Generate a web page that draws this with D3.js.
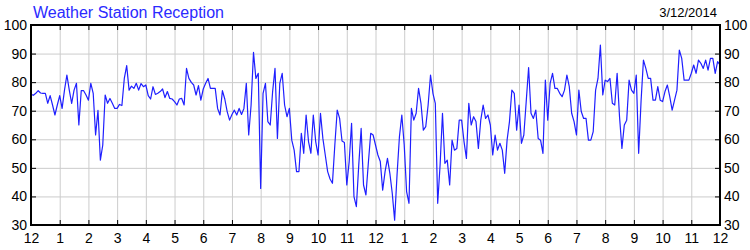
<!DOCTYPE html>
<html lang="en">
<head>
    <meta charset="UTF-8">
    <title>Weather Station Reception</title>
    <script src="https://cdn.jsdelivr.net/npm/d3@7"></script>
    <style>
        body {
            margin: 0;
            background-color: #fff;
            font-family: 'Liberation Sans', Arial, sans-serif;
        }
        svg text {
            font-family: 'Liberation Sans', Arial, sans-serif;
        }
    </style>
</head>
<body>
    <svg id="chart" width="750" height="250"></svg>

    <script>
        // reception quality, one reading every 5 minutes from midnight to midnight
        const readings = [
            75.7, 75.4, 76.1, 77.0, 76.2, 76.1, 76.1, 72.6, 75.3, 72.0, 68.5, 72.0,
            75.3, 70.8, 77.2, 82.5, 77.2, 72.6, 77.2, 79.6, 65.0, 77.0, 77.0, 75.5,
            73.7, 79.6, 76.1, 61.5, 70.1, 52.7, 58.0, 75.5, 72.6, 74.3, 72.6, 70.8,
            70.8, 72.2, 71.8, 81.3, 85.8, 77.2, 78.6, 77.8, 79.6, 77.2, 79.5, 78.4,
            79.0, 75.3, 74.1, 78.4, 75.7, 76.1, 76.7, 77.6, 74.6, 76.7, 74.3, 74.1,
            73.2, 72.0, 74.1, 74.3, 72.0, 84.8, 81.3, 79.9, 79.0, 75.5, 78.8, 73.7,
            77.6, 79.6, 81.3, 77.8, 77.8, 77.8, 70.8, 68.5, 77.0, 74.1, 69.7, 66.7,
            68.7, 70.2, 68.5, 70.8, 68.7, 70.8, 79.6, 61.5, 72.0, 90.4, 81.3, 83.1,
            42.8, 76.1, 79.6, 66.2, 65.0, 76.7, 84.8, 60.3, 79.6, 83.1, 72.0, 67.9,
            70.8, 59.7, 56.2, 48.7, 48.7, 62.1, 55.1, 68.5, 59.2, 55.1, 68.5, 59.2,
            54.5, 69.1, 60.3, 54.5, 48.7, 46.1, 44.6, 58.0, 70.2, 67.3, 59.4, 58.9,
            44.0, 52.2, 65.6, 39.9, 36.4, 51.0, 63.8, 44.0, 40.5, 51.6, 62.1, 61.5,
            58.0, 54.5, 52.2, 42.2, 48.7, 53.3, 48.1, 41.1, 31.7, 47.5, 60.9, 68.5,
            58.0, 41.7, 37.6, 70.8, 66.7, 69.1, 77.8, 72.6, 63.2, 64.4, 72.0, 82.5,
            76.1, 72.6, 37.6, 51.0, 69.1, 51.6, 52.7, 44.0, 59.7, 56.2, 56.8, 66.7,
            66.7, 59.2, 53.3, 72.6, 65.0, 67.9, 66.2, 56.8, 66.7, 72.0, 67.3, 68.5,
            65.0, 54.5, 61.5, 56.2, 58.6, 56.2, 48.1, 59.7, 66.2, 77.2, 76.1, 63.2,
            72.0, 58.6, 61.5, 73.2, 85.1, 69.1, 67.3, 70.2, 60.3, 59.7, 55.1, 80.7,
            66.7, 79.6, 83.1, 77.8, 77.8, 76.1, 74.9, 77.2, 82.5, 78.4, 69.1, 66.2,
            61.5, 77.2, 69.7, 67.3, 67.3, 59.7, 59.7, 62.7, 77.2, 81.3, 93.0, 75.5,
            80.7, 80.2, 81.3, 72.6, 72.0, 83.1, 67.9, 56.8, 65.0, 66.7, 80.7, 77.2,
            76.1, 82.5, 55.1, 73.2, 87.7, 84.8, 81.3, 81.3, 73.7, 73.7, 78.4, 73.7,
            73.2, 76.7, 79.0, 74.9, 70.2, 73.7, 77.2, 91.2, 88.3, 80.7, 80.7, 80.7,
            83.1, 86.0, 83.1, 87.7, 86.6, 84.8, 87.7, 84.2, 88.3, 88.3, 83.1, 87.2,
            86.0
        ];
        const hourLabels = ["12", "1", "2", "3", "4", "5", "6", "7", "8", "9", "10", "11",
                            "12", "1", "2", "3", "4", "5", "6", "7", "8", "9", "10", "11", "12"];
        const yTicks = [30, 40, 50, 60, 70, 80, 90, 100];
        const title = "Weather Station Reception";
        const dateLabel = "3/12/2014";

        const svg = d3.select("#chart");
        const plotLeft = 31, plotRight = 720, plotTop = 25, plotBottom = 225;

        const x = d3.scaleLinear().domain([0, 24]).range([plotLeft, plotRight]);
        const y = d3.scaleLinear().domain([30, 100]).range([plotBottom, plotTop]);

        //////////// GRID
        svg.append("g")
            .attr("transform", `translate(0,${plotBottom})`)
            .call(d3.axisBottom(x).tickValues(d3.range(1, 24)).tickSize(-(plotBottom - plotTop)).tickFormat(""))
            .call(g => g.select(".domain").remove())
            .selectAll("line").attr("stroke", "#cccccc");

        svg.append("g")
            .attr("transform", `translate(${plotLeft},0)`)
            .call(d3.axisLeft(y).tickValues(yTicks.slice(1, -1)).tickSize(-(plotRight - plotLeft)).tickFormat(""))
            .call(g => g.select(".domain").remove())
            .selectAll("line").attr("stroke", "#cccccc");

        //////////// LINE
        const line = d3.line()
            .x((d, i) => x(i / 12))
            .y(d => y(d));

        svg.append("path")
            .datum(readings)
            .attr("fill", "none")
            .attr("stroke", "#1f1fff")
            .attr("stroke-width", 1.2)
            .attr("stroke-linejoin", "round")
            .attr("d", line);

        //////////// AXES
        function styleAxis(g) {
            g.select(".domain").remove();
            g.selectAll("line").attr("stroke", "#000");
            g.selectAll("text").attr("fill", "#000").style("font-size", "14px");
        }

        svg.append("g")
            .attr("transform", `translate(0,${plotBottom})`)
            .call(d3.axisBottom(x).tickValues(d3.range(25)).tickSize(-5).tickPadding(8)
                .tickFormat(d => hourLabels[d]))
            .call(styleAxis);

        svg.append("g")
            .attr("transform", `translate(0,${plotTop})`)
            .call(d3.axisTop(x).tickValues(d3.range(25)).tickSize(-5).tickFormat(""))
            .call(styleAxis);

        svg.append("g")
            .attr("transform", `translate(${plotLeft},0)`)
            .call(d3.axisLeft(y).tickValues(yTicks).tickSize(-5).tickPadding(4))
            .call(styleAxis);

        svg.append("g")
            .attr("transform", `translate(${plotRight},0)`)
            .call(d3.axisRight(y).tickValues(yTicks).tickSize(-5).tickPadding(4))
            .call(styleAxis);

        // frame
        svg.append("rect")
            .attr("x", plotLeft).attr("y", plotTop)
            .attr("width", plotRight - plotLeft).attr("height", plotBottom - plotTop)
            .attr("fill", "none")
            .attr("stroke", "#000")
            .attr("stroke-width", 2);

        //////////// TITLES
        svg.append("text")
            .attr("x", 33).attr("y", 18)
            .attr("fill", "#2a2aff")
            .style("font-size", "16px")
            .text(title);

        svg.append("text")
            .attr("x", 717).attr("y", 17)
            .attr("text-anchor", "end")
            .attr("fill", "#000")
            .style("font-size", "13px")
            .text(dateLabel);
    </script>
</body>
</html>
